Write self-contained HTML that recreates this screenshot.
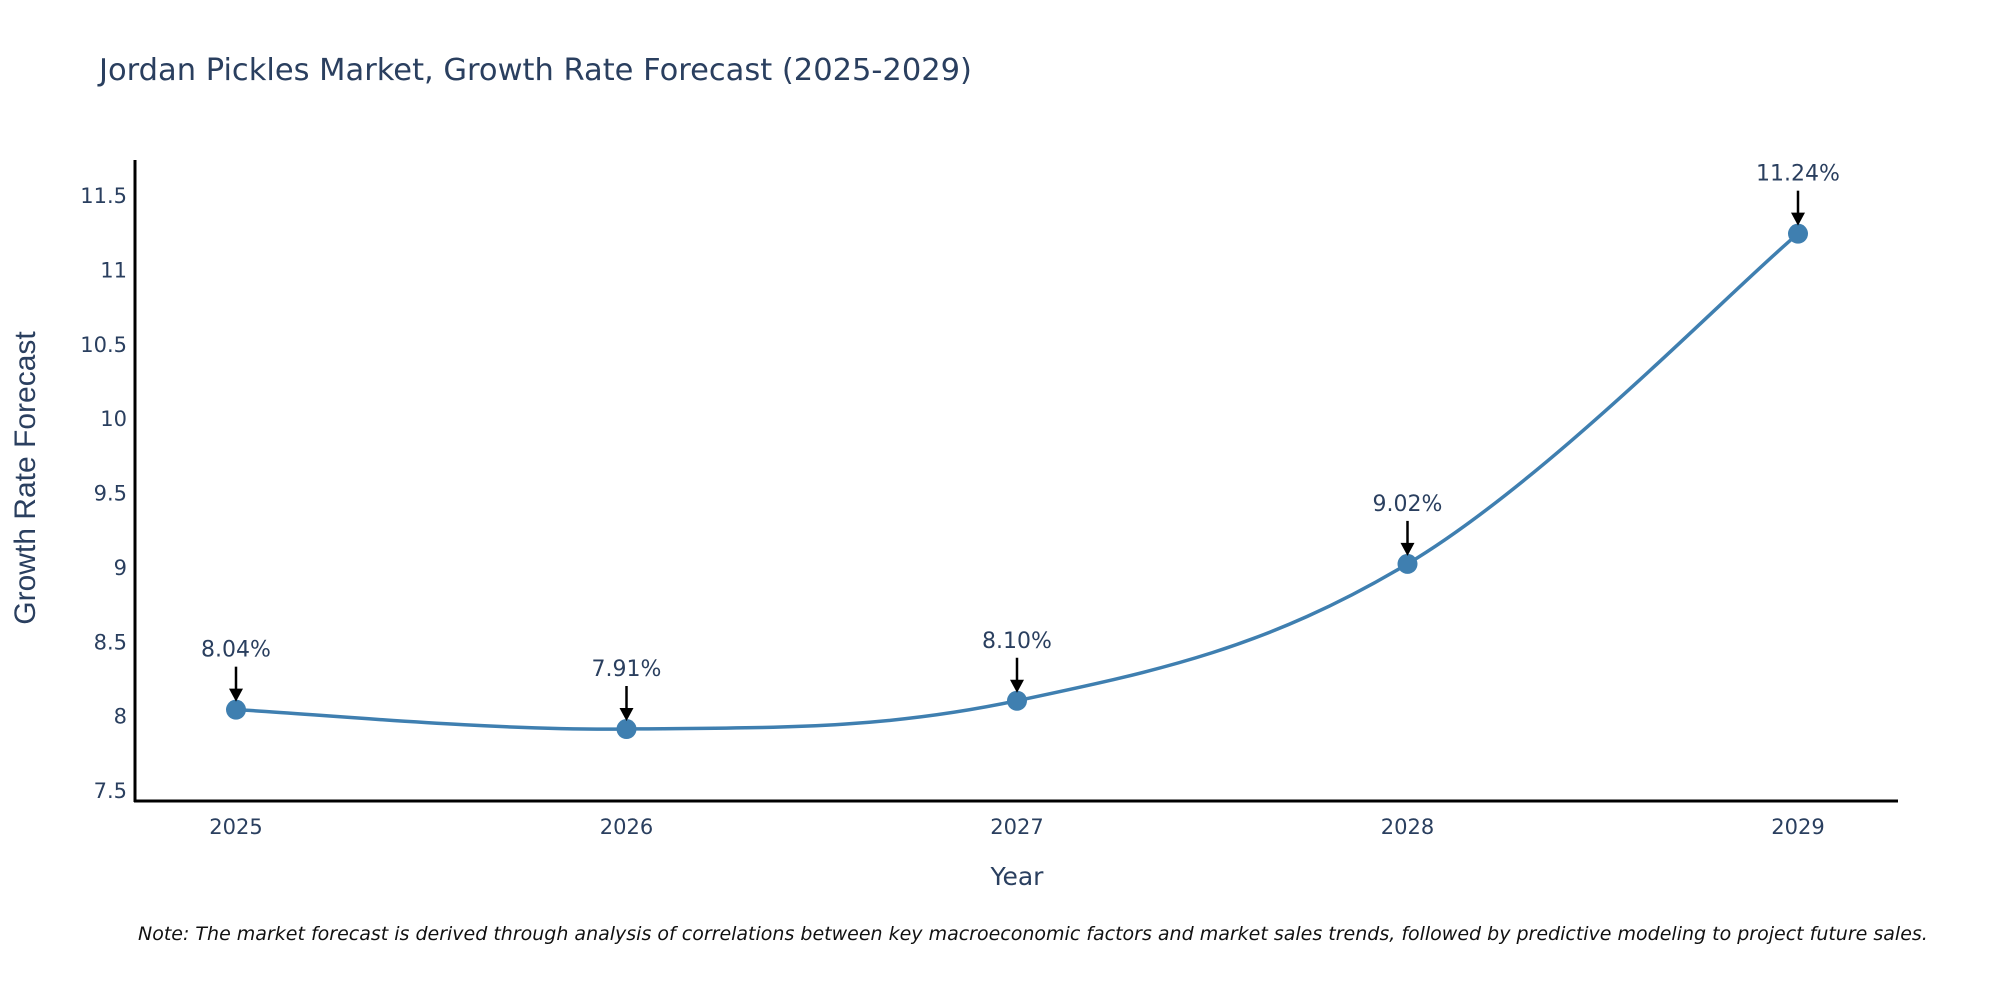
<!DOCTYPE html>
<html><head><meta charset="utf-8"><style>
body{margin:0;background:#fff;}
svg{display:block;font-family:"DejaVu Sans","Liberation Sans",sans-serif;}
</style></head><body>
<svg id="chart" width="2000" height="1000" viewBox="0 0 2000 1000">
<text x="99" y="80" font-size="30.5" fill="#2a3f5f">Jordan Pickles Market, Growth Rate Forecast (2025-2029)</text>
<g id="yticks"></g>
<g id="xticks"></g>
<line x1="135" y1="160" x2="135" y2="802" stroke="#000" stroke-width="3"/>
<line x1="134" y1="801" x2="1898" y2="801" stroke="#000" stroke-width="3"/>
<text x="1017" y="885" font-size="25" fill="#2a3f5f" text-anchor="middle">Year</text>
<text transform="translate(35,478) rotate(-90)" font-family="Liberation Sans, sans-serif" font-size="30" fill="#2a3f5f" text-anchor="middle">Growth Rate Forecast</text>
<g id="series"></g>
<text x="138" y="940" font-size="19" font-style="italic" fill="#111">Note: The market forecast is derived through analysis of correlations between key macroeconomic factors and market sales trends, followed by predictive modeling to project future sales.</text>
</svg>
<script>
const years = ["2025","2026","2027","2028","2029"];
const growth = [8.04, 7.91, 8.10, 9.02, 11.24];
const labels = ["8.04%","7.91%","8.10%","9.02%","11.24%"];
const yTickVals = [7.5, 8, 8.5, 9, 9.5, 10, 10.5, 11, 11.5];
const yTickLabels = ["7.5","8","8.5","9","9.5","10","10.5","11","11.5"];
const NS = "http://www.w3.org/2000/svg";
function xs(i){return 236 + i*390.5;}
function ys(v){return 790 - (v-7.5)*148.75;}
function mk(tag, attrs, parent){const e=document.createElementNS(NS,tag);for(const k in attrs)e.setAttribute(k,attrs[k]);parent.appendChild(e);return e;}
const yt=document.getElementById('yticks');
yTickVals.forEach((v,i)=>{
  const t=mk('text',{x:127,y:ys(v)+8,'font-size':21,fill:'#2a3f5f','text-anchor':'end'},yt);
  
  
  t.textContent=yTickLabels[i];
});
const xt=document.getElementById('xticks');
years.forEach((y,i)=>{
  const t=mk('text',{x:xs(i),y:834,'font-size':21,fill:'#2a3f5f','text-anchor':'middle'},xt);
  
  
  t.textContent=y;
});
const s=document.getElementById('series');
const pts=growth.map((v,i)=>[xs(i),ys(v)]);
let d='M'+pts[0][0]+','+pts[0][1];
for(let i=0;i<pts.length-1;i++){
  const p0=pts[Math.max(0,i-1)],p1=pts[i],p2=pts[i+1],p3=pts[Math.min(pts.length-1,i+2)];
  const k=0.18;
  const c1=[p1[0]+(p2[0]-p0[0])*k,p1[1]+(p2[1]-p0[1])*k];
  const c2=[p2[0]-(p3[0]-p1[0])*k,p2[1]-(p3[1]-p1[1])*k];
  d+=' C'+c1+' '+c2+' '+p2;
}
const line=mk('path',{d:d,fill:'none',stroke:'#3f7fb0','stroke-width':3.5},s);


pts.forEach((p,i)=>{
  const c=mk('circle',{cx:p[0],cy:p[1],r:10,fill:'#3f7fb0'},s);
  
  
  const a=mk('line',{x1:p[0],y1:p[1]-43,x2:p[0],y2:p[1]-20,stroke:'#000','stroke-width':2.5},s);
  
  
  const h=mk('polygon',{points:(p[0]-7)+','+(p[1]-21)+' '+(p[0]+7)+','+(p[1]-21)+' '+p[0]+','+(p[1]-8),fill:'#000'},s);
  
  
  const t=mk('text',{x:p[0],y:p[1]-53,'font-size':22,fill:'#2a3f5f','text-anchor':'middle'},s);
  
  
  t.textContent=labels[i];
});
</script>
</body></html>
